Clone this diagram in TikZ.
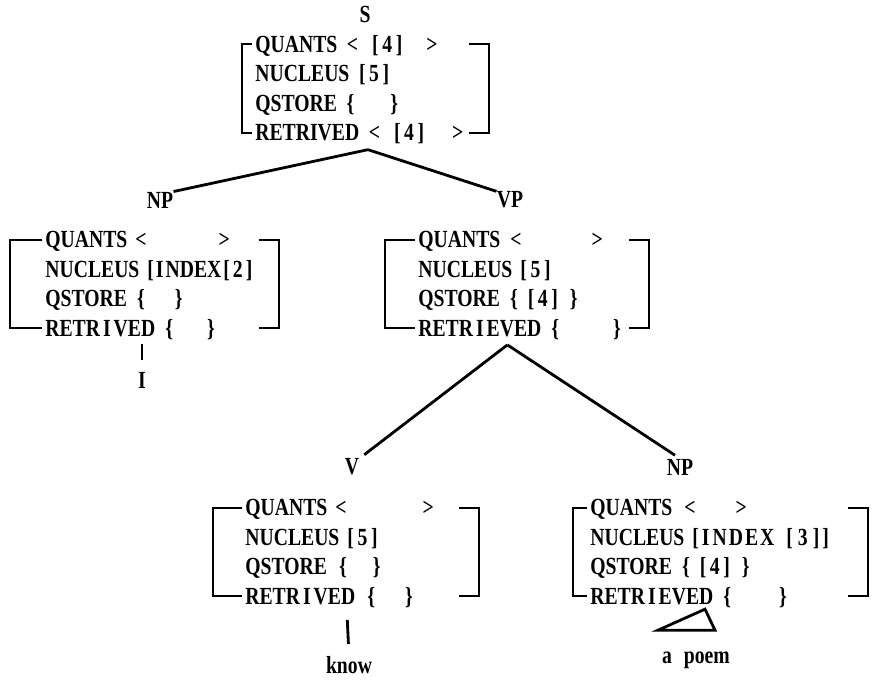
\documentclass[tikz,border=0pt]{standalone}
\usepackage{fontspec}
\newfontfamily\avmfont{Liberation Serif}[FakeStretch=0.8]
\usetikzlibrary{calc}

% brackets round an AVM node: #1 node, #2 left gap (px)
\newcommand{\avmbox}[2]{%
 \draw[bracket] ($(#1.north west)+(-3,9)$) -- ($(#1.north west)+(-#2,9)$)
   |- ($(#1.south west)+(-3,-12)$);
 \draw[bracket] ($(#1.north east)+(-20,9)$) -- ($(#1.north east)+(0,9)$)
   |- ($(#1.south east)+(-20,-12)$);
}
\newcommand{\bx}[1]{[\kern1.8pt#1\kern1.8pt]}
\newcommand{\sI}{\kern1.5pt I\kern1.5pt}

\begin{document}
\begin{tikzpicture}[
 x=0.5pt,y=-0.5pt,
 every node/.style={font=\avmfont\bfseries\fontsize{12.3}{14.75}\selectfont,inner sep=0pt},
 avm/.style={anchor=north west,align=left},
 cat/.style={anchor=center},
 bracket/.style={line width=1pt},
 branch/.style={line width=1.4pt}
]
\useasboundingbox (0,0) rectangle (873,696);
% root
\node[cat] (slbl) at (365,14) {S};
\node[avm,text width=116.5pt] (s) at (255,35)
 {QUANTS\hspace{4.8pt}<\hspace{7pt}\bx{4}\hspace{12pt}>\\
  NUCLEUS\hspace{4.8pt}\bx{5}\\
  QSTORE\hspace{4.8pt}\{\hspace{18pt}\}\\
  RETRIVED\hspace{4.8pt}<\hspace{7pt}\bx{4}\hspace{14pt}>};
\avmbox{s}{13}
\coordinate (sroot) at ($(s.south)+(-4,5)$);
% NP subject
\node[cat] (npa) at (160,200) {NP};
\node[avm,text width=116.5pt] (np) at (45,231)
 {QUANTS\hspace{4pt}<\hspace{36pt}>\\
  NUCLEUS\hspace{4pt}[\kern1pt I\kern1pt NDEX\kern1pt[\kern1.5pt2\kern1.5pt]\\
  QSTORE\hspace{5pt}\{\hspace{15pt}\}\\
  RETR\sI VED\hspace{5pt}\{\hspace{17pt}\}};
\avmbox{np}{35}
\node[cat] (ilbl) at (142,380) {I};
% VP
\node[cat] (vplbl) at (510,200) {VP};
\node[avm,text width=115pt] (vp) at (418,231)
 {QUANTS\hspace{5pt}<\hspace{35pt}>\\
  NUCLEUS\hspace{4pt}\bx{5}\\
  QSTORE\hspace{5pt}\{\hspace{5pt}\bx{4}\hspace{6pt}\}\\
  RETR\sI EVED\hspace{5pt}\{\hspace{27pt}\}};
\avmbox{vp}{33}
\coordinate (vproot) at ($(vp.south)+(-26,5)$);
% V
\node[cat] (vlbl) at (352,467) {V};
\node[avm,text width=116.5pt] (v) at (245,499)
 {QUANTS\hspace{4pt}<\hspace{38pt}>\\
  NUCLEUS\hspace{4pt}\bx{5}\\
  QSTORE\hspace{6pt}\{\hspace{13pt}\}\\
  RETR\sI VED\hspace{6pt}\{\hspace{15pt}\}};
\avmbox{v}{32}
\node[cat] (know) at (349,665) {know};
% NP object
\node[cat] (npblbl) at (680,467) {NP};
\node[avm,text width=138.5pt] (npb) at (590,499)
 {QUANTS\hspace{6pt}<\hspace{20pt}>\\
  NUCLEUS\hspace{4pt}[\kern1.5pt I\kern1.5pt N\kern1pt D\kern1pt E\kern1pt X\hspace{6pt}[\kern2.5pt3\kern2.5pt]\kern1.5pt]\\
  QSTORE\hspace{5pt}\{\hspace{5pt}\bx{4}\hspace{6pt}\}\\
  RETR\sI EVED\hspace{5pt}\{\hspace{24pt}\}};
\avmbox{npb}{17}
\node[cat] (poem) at (696,660) {a\hspace{6pt}poem};
% branches
\draw[branch] (sroot) -- (npa.north east);
\draw[branch] (sroot) -- (vplbl.north west);
\draw[branch,shorten >=3pt] (vproot) -- (vlbl.north east);
\draw[branch,shorten >=3pt] (vproot) -- (npblbl.north);
\draw[branch,shorten >=6pt] ($(np.south west)+(97,4)$) -- (ilbl.north);
\draw[branch,shorten <=3pt,shorten >=6pt] ($(v.south west)+(102,6)$) -- (know.north);
\draw[branch,line join=miter] ($(poem.north)+(-38,-21)$) -- ($(poem.north)+(9,-42)$)
 -- ($(poem.north)+(19,-21)$) -- cycle;
\end{tikzpicture}
\end{document}
